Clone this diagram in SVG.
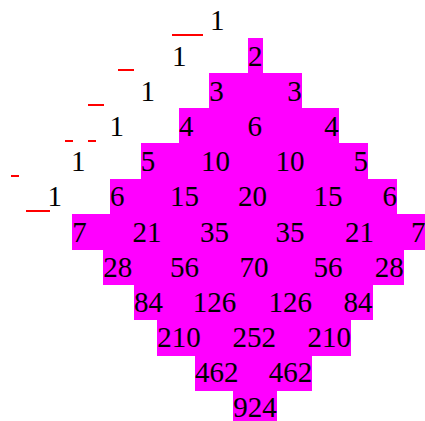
<svg xmlns="http://www.w3.org/2000/svg" width="425" height="421" viewBox="0 0 425 421">
<style>
text{font-family:"Liberation Serif","Times New Roman",serif;font-size:29px;fill:#000}
.hl{fill:#ff00ff;shape-rendering:crispEdges}
.ul{fill:#ff0000;shape-rendering:crispEdges}
</style>
<rect width="425" height="421" fill="#fff"/>
<g id="highlight">
<rect class="hl" x="248" y="38" width="15" height="36"/>
<rect class="hl" x="209" y="73" width="93" height="36"/>
<rect class="hl" x="179" y="108" width="160" height="36"/>
<rect class="hl" x="141" y="143" width="227" height="37"/>
<rect class="hl" x="110" y="179" width="287" height="36"/>
<rect class="hl" x="72" y="214" width="353" height="36"/>
<rect class="hl" x="103" y="249" width="301" height="36"/>
<rect class="hl" x="134" y="284" width="239" height="36"/>
<rect class="hl" x="157" y="319" width="194" height="37"/>
<rect class="hl" x="195" y="355" width="117" height="36"/>
<rect class="hl" x="233" y="390" width="44" height="31"/>
</g>
<g id="underlines">
<rect class="ul" x="172" y="34" width="31" height="2"/>
<rect class="ul" x="118" y="69" width="16" height="2"/>
<rect class="ul" x="88" y="104" width="16" height="2"/>
<rect class="ul" x="65" y="140" width="8" height="2"/>
<rect class="ul" x="88" y="140" width="8" height="2"/>
<rect class="ul" x="11" y="175" width="8" height="2"/>
<rect class="ul" x="26" y="210" width="24" height="2"/>
</g>
<g id="row0"><text x="210" y="30.4">1</text></g>
<g id="row1"><text x="172" y="65.6">1</text><text x="248" y="65.6">2</text></g>
<g id="row2"><text x="140.5" y="100.8">1</text><text x="209.3" y="100.8">3</text><text x="287.2" y="100.8">3</text></g>
<g id="row3"><text x="109.5" y="136">1</text><text x="179" y="136">4</text><text x="247.5" y="136">6</text><text x="324.2" y="136">4</text></g>
<g id="row4"><text x="71" y="171.2">1</text><text x="140.7" y="171.2">5</text><text x="201" y="171.2">10</text><text x="275.5" y="171.2">10</text><text x="353.5" y="171.2">5</text></g>
<g id="row5"><text x="47.5" y="206.4">1</text><text x="110" y="206.4">6</text><text x="170" y="206.4">15</text><text x="238" y="206.4">20</text><text x="313.5" y="206.4">15</text><text x="382.5" y="206.4">6</text></g>
<g id="row6"><text x="72.3" y="241.6">7</text><text x="132.4" y="241.6">21</text><text x="200" y="241.6">35</text><text x="275.5" y="241.6">35</text><text x="345" y="241.6">21</text><text x="411" y="241.6">7</text></g>
<g id="row7"><text x="103.3" y="276.8">28</text><text x="170" y="276.8">56</text><text x="239.5" y="276.8">70</text><text x="313.5" y="276.8">56</text><text x="374.8" y="276.8">28</text></g>
<g id="row8"><text x="134" y="312">84</text><text x="192.8" y="312">126</text><text x="268.5" y="312">126</text><text x="343.5" y="312">84</text></g>
<g id="row9"><text x="157.3" y="347.2">210</text><text x="232.4" y="347.2">252</text><text x="307.4" y="347.2">210</text></g>
<g id="row10"><text x="195" y="382.4">462</text><text x="268.8" y="382.4">462</text></g>
<g id="row11"><text x="233.3" y="417">924</text></g>
</svg>
